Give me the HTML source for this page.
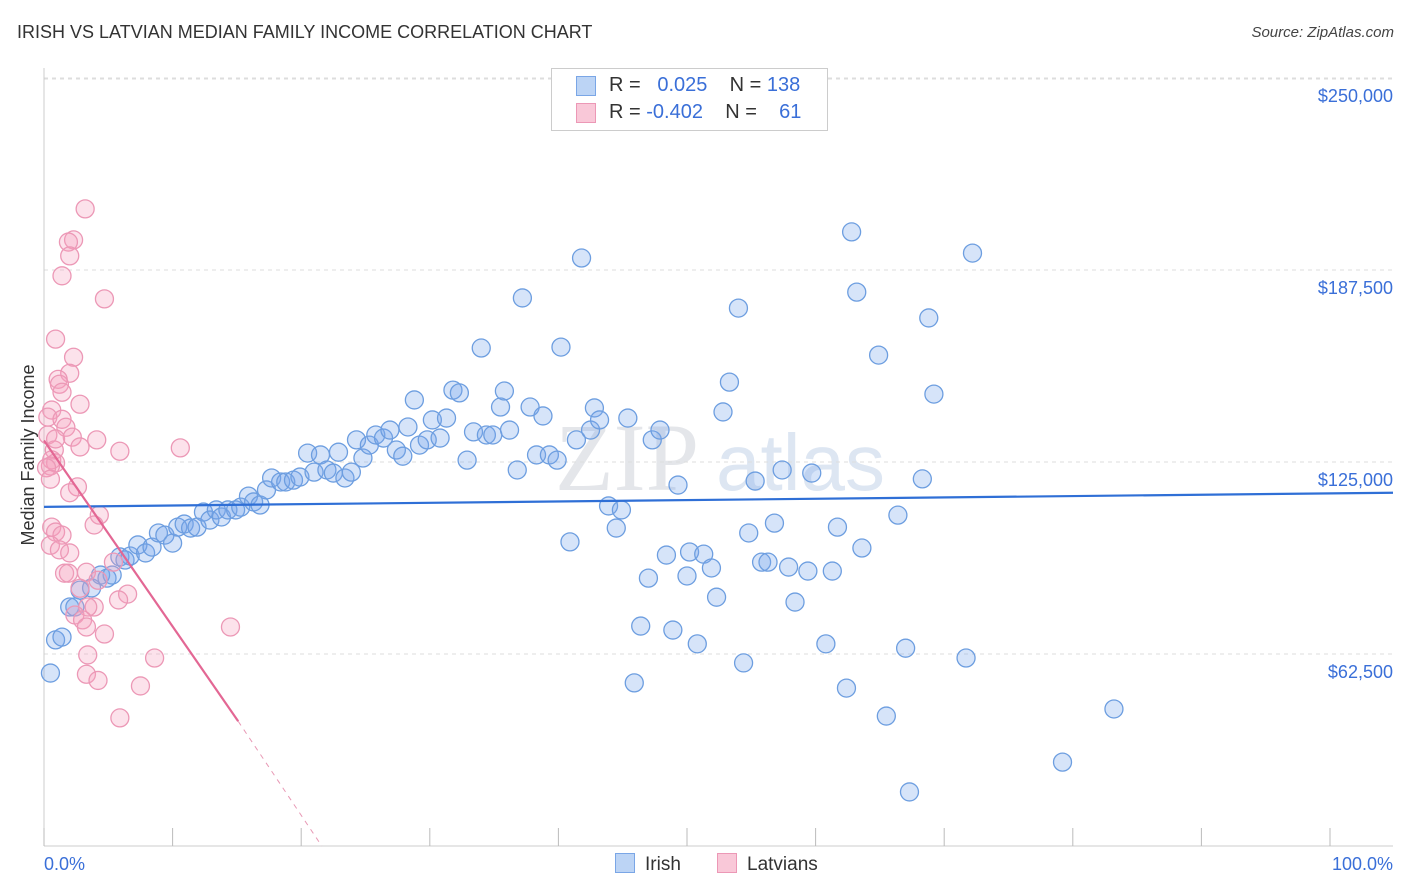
<!DOCTYPE html>
<html><head><meta charset="utf-8"><style>
body{margin:0;background:#fff;font-family:"Liberation Sans",sans-serif;}
#wrap{position:relative;width:1406px;height:892px;overflow:hidden;}
.t{position:absolute;white-space:nowrap;}
</style></head><body>
<div id="wrap">
<div class="t" style="left:17px;top:22px;font-size:18px;color:#333;">IRISH VS LATVIAN MEDIAN FAMILY INCOME CORRELATION CHART</div>
<div class="t" style="right:12px;top:24px;font-size:15px;color:#444;font-style:italic;">Source: ZipAtlas.com</div>
<svg id="svg" width="1406" height="892" style="position:absolute;left:0;top:0"></svg>
</div>
<script>
const yTicks=[62500,125000,187500,250000];
const yTickLabels=["$62,500","$125,000","$187,500","$250,000"];
const irishX=[0.5,0.9,1.4,2.0,2.4,2.8,3.7,4.4,4.9,5.3,5.9,6.3,6.7,7.3,7.9,8.4,8.9,9.4,10.0,10.4,10.9,11.4,11.9,12.4,12.9,13.4,13.8,14.3,14.9,15.3,15.9,16.3,16.8,17.3,17.7,18.4,18.8,19.4,19.9,20.5,21.0,21.5,22.0,22.5,22.9,23.4,23.9,24.3,24.8,25.3,25.8,26.4,26.9,27.4,27.9,28.3,28.8,29.2,29.8,30.2,30.8,31.3,31.8,32.3,32.9,33.4,34.0,34.4,34.9,35.5,35.8,36.2,36.8,37.2,37.8,38.3,38.8,39.3,39.9,40.2,40.9,41.4,41.8,42.5,42.8,43.2,43.9,44.5,44.9,45.4,45.9,46.4,47.0,47.3,47.9,48.4,48.9,49.3,50.0,50.2,50.8,51.3,51.9,52.3,52.8,53.3,54.0,54.4,54.8,55.3,55.8,56.3,56.8,57.4,57.9,58.4,59.4,59.7,60.8,61.3,61.7,62.4,62.8,63.2,63.6,64.9,65.5,66.4,67.0,67.3,68.3,68.8,69.2,71.7,72.2,79.2,83.2];
const irishY=[56.3,67.1,68.0,77.8,77.8,83.3,84.0,88.2,87.2,88.2,94.1,93.1,94.4,98.0,95.4,97.3,101.9,101.2,98.6,103.8,104.8,103.5,103.8,108.7,106.1,109.4,107.1,109.4,109.4,110.3,113.9,112.0,111.0,115.9,119.8,118.5,118.5,119.1,120.1,127.9,121.7,127.3,122.4,121.4,128.2,119.8,121.7,132.2,126.3,130.5,133.8,132.8,135.4,128.9,126.9,136.4,145.2,130.5,132.2,138.7,132.8,139.3,148.4,147.5,125.6,134.8,162.1,133.8,133.8,142.9,148.1,135.4,122.4,178.4,142.9,127.3,140.0,127.3,125.6,162.4,99.0,132.2,191.4,135.4,142.6,138.7,110.7,103.5,109.4,139.3,53.1,71.6,87.2,132.2,135.4,94.7,70.3,117.5,87.9,95.7,65.8,95.0,90.5,81.0,141.3,151.0,175.1,59.6,101.9,118.8,92.4,92.4,105.1,122.4,90.8,79.4,89.5,121.4,65.8,89.5,103.8,51.4,199.9,180.3,97.0,159.8,42.3,107.7,64.4,17.6,119.5,171.9,147.1,61.2,193.0,27.3,44.6];
const latX=[3.2,2.3,1.9,2.0,1.4,4.7,0.9,2.3,2.0,1.1,1.2,1.4,2.8,0.6,0.3,1.4,1.7,0.3,2.2,4.1,2.8,0.8,5.9,10.6,0.6,0.9,0.5,0.2,2.6,2.0,4.3,3.9,0.6,0.9,1.4,0.5,1.2,2.0,5.4,3.3,1.6,1.9,4.2,2.8,6.5,5.8,3.9,3.4,2.4,3.0,3.3,4.7,14.5,3.4,8.6,3.3,4.2,7.5,5.9,0.9,0.5];
const latY=[207.4,197.3,196.6,192.1,185.6,178.1,165.0,159.1,153.9,151.9,150.3,147.7,143.8,141.9,139.6,138.9,136.3,133.8,133.1,132.2,129.9,128.9,128.5,129.6,125.7,124.7,123.7,123.1,116.9,115.0,107.7,104.5,103.8,102.2,101.2,97.9,96.4,95.4,92.4,89.1,88.8,88.8,86.5,83.9,82.0,80.1,77.8,77.8,75.2,73.6,71.3,69.0,71.3,62.2,61.2,55.9,53.9,52.1,41.7,132.5,119.4];
const X0=44,X1=1330,Y0=846,PX=192/62500;
const sx=v=>X0+(X1-X0)*v/100, sy=v=>Y0-v*PX;
const svg=document.getElementById('svg');const NS='http://www.w3.org/2000/svg';
function mk(tag,attrs){const e=document.createElementNS(NS,tag);for(const k in attrs)e.setAttribute(k,attrs[k]);svg.appendChild(e);return e;}
let wm=mk('text',{x:555,y:490,'font-size':96,fill:'#e4e6ea','font-family':'Liberation Serif, serif'});wm.textContent='ZIP';


let wm2=mk('text',{x:716,y:490,'font-size':80,fill:'#dde6f2','font-family':'Liberation Sans, sans-serif'});wm2.textContent='atlas';


mk('line',{x1:44,x2:1393,y1:79,y2:79,stroke:'#ddd','stroke-dasharray':'4,4'});
yTicks.forEach((v,i)=>{
 const g=mk('line',{x1:44,x2:1393,y1:sy(v),y2:sy(v),stroke:'#ddd','stroke-dasharray':'4,4'});
 
 
 const t=mk('text',{x:1393,y:sy(v)+24,'text-anchor':'end','font-size':18,fill:'#3a6fd8'});t.textContent=yTickLabels[i];
 
 
});
const ax=mk('line',{x1:44,x2:1393,y1:846,y2:846,stroke:'#ccc'});


mk('line',{x1:44,x2:44,y1:68,y2:846,stroke:'#ccc'});
for(let i=0;i<=10;i++){const tk=mk('line',{x1:sx(i*10),x2:sx(i*10),y1:828,y2:846,stroke:'#bbb'});
 
 }
let t1=mk('text',{x:44,y:870,'font-size':18,fill:'#3a6fd8'});t1.textContent='0.0%';


let t2=mk('text',{x:1393,y:870,'font-size':18,fill:'#3a6fd8','text-anchor':'end'});t2.textContent='100.0%';


let yt=mk('text',{x:34,y:455,'font-size':18,fill:'#333','text-anchor':'middle',transform:'rotate(-90 34 455)'});yt.textContent='Median Family Income';


irishX.forEach((x,i)=>{const c=mk('circle',{cx:sx(x),cy:sy(irishY[i]*1000),r:9,fill:'rgba(120,165,235,0.3)',stroke:'#6d9ee0','stroke-width':1.3});
 
 });
latX.forEach((x,i)=>{const c=mk('circle',{cx:sx(x),cy:sy(latY[i]*1000),r:9,fill:'rgba(245,160,190,0.3)',stroke:'#ec98b6','stroke-width':1.3});
 
 });
const bl=mk('line',{x1:sx(0),y1:sy(110400),x2:1393,y2:sy(115000),stroke:'#2f6fd6','stroke-width':2.2});


const pl=mk('line',{x1:sx(0),y1:sy(132000),x2:sx(15.1),y2:sy(40600),stroke:'#e36794','stroke-width':2.2});


const pd=mk('line',{x1:sx(15.1),y1:sy(40600),x2:sx(21.6),y2:sy(0),stroke:'#e899b5','stroke-width':1,'stroke-dasharray':'5,5'});


</script>
<div class="t" style="left:551px;top:68px;width:275px;height:61px;border:1px solid #ccc;background:#fff;"></div>
<div class="t" style="left:576px;top:76px;width:18px;height:18px;background:#bcd4f5;border:1px solid #7aa6e6;"></div>
<div class="t" style="left:576px;top:103px;width:18px;height:18px;background:#f9c8d8;border:1px solid #ec98b6;"></div>
<div class="t" style="left:609px;top:74px;font-size:20px;color:#333;">R = &nbsp;<span style="color:#3a6fd8">&nbsp;0.025</span>&nbsp;&nbsp;&nbsp; N = <span style="color:#3a6fd8">138</span></div>
<div class="t" style="left:609px;top:101px;font-size:20px;color:#333;">R = <span style="color:#3a6fd8">-0.402</span>&nbsp;&nbsp;&nbsp; N = &nbsp;&nbsp; <span style="color:#3a6fd8">61</span></div>
<div class="t" style="left:615px;top:853px;font-size:19px;color:#333;"><span style="display:inline-block;width:18px;height:18px;background:#bcd4f5;border:1px solid #7aa6e6;vertical-align:-3px;margin-right:10px"></span>Irish</div>
<div class="t" style="left:717px;top:853px;font-size:19px;color:#333;"><span style="display:inline-block;width:18px;height:18px;background:#f9c8d8;border:1px solid #ec98b6;vertical-align:-3px;margin-right:10px"></span>Latvians</div>
</body></html>
